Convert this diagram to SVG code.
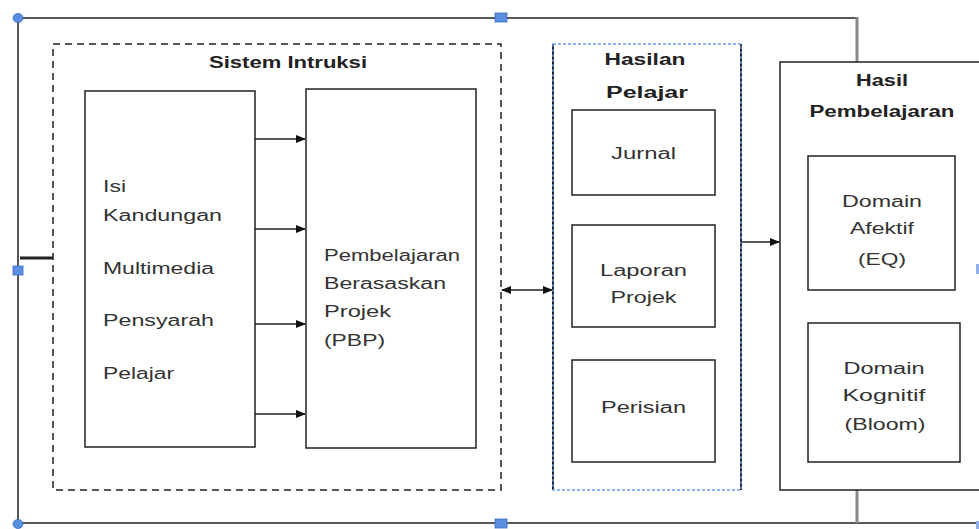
<svg xmlns="http://www.w3.org/2000/svg" width="979" height="529" viewBox="0 0 979 529">
<defs>
<style>
.t{font-family:"Liberation Sans",Arial,sans-serif;font-size:16px;fill:#333;}
.b{font-family:"Liberation Sans",Arial,sans-serif;font-size:16px;font-weight:bold;fill:#222;}
.box{fill:#fff;stroke:#222;stroke-width:1.5;}
.ln{stroke:#222;stroke-width:1.5;fill:none;}
.h{fill:#5b8fe0;stroke:#3a6cc0;stroke-width:0.8;}
</style>
<marker id="ar" markerWidth="10" markerHeight="8" refX="9" refY="4" orient="auto" markerUnits="userSpaceOnUse">
<path d="M0,0 L10,4 L0,8 z" fill="#111"/>
</marker>
<marker id="as" markerWidth="10" markerHeight="8" refX="1" refY="4" orient="auto" markerUnits="userSpaceOnUse">
<path d="M10,0 L0,4 L10,8 z" fill="#111"/>
</marker>
</defs>
<rect width="979" height="529" fill="#fff"/>
<g id="frame">
<path class="ln" d="M18,18 H857"/>
<path class="ln" d="M18,18 V523 H979"/>
<path d="M857,17 V523" stroke="#888" stroke-width="3"/>
</g>
<g id="sistem">
<rect x="53" y="44" width="448" height="446" fill="none" stroke="#222" stroke-width="1.5" stroke-dasharray="7,5"/>
<text class="b" x="288" y="68" text-anchor="middle" textLength="158" lengthAdjust="spacingAndGlyphs">Sistem Intruksi</text>
</g>
<g id="isi">
<rect class="box" x="85" y="91" width="170" height="356"/>
<text class="t" x="103" y="192" textLength="23" lengthAdjust="spacingAndGlyphs">Isi</text>
<text class="t" x="103" y="221" textLength="119" lengthAdjust="spacingAndGlyphs">Kandungan</text>
<text class="t" x="103" y="274" textLength="111" lengthAdjust="spacingAndGlyphs">Multimedia</text>
<text class="t" x="103" y="326" textLength="111" lengthAdjust="spacingAndGlyphs">Pensyarah</text>
<text class="t" x="103" y="379" textLength="71" lengthAdjust="spacingAndGlyphs">Pelajar</text>
</g>
<g id="pbp">
<rect class="box" x="306" y="89" width="170" height="359"/>
<text class="t" x="324" y="261" textLength="136" lengthAdjust="spacingAndGlyphs">Pembelajaran</text>
<text class="t" x="324" y="289" textLength="122" lengthAdjust="spacingAndGlyphs">Berasaskan</text>
<text class="t" x="324" y="317" textLength="67" lengthAdjust="spacingAndGlyphs">Projek</text>
<text class="t" x="324" y="346" textLength="61" lengthAdjust="spacingAndGlyphs">(PBP)</text>
</g>
<g id="hasilan">
<rect x="553" y="44" width="188" height="446" fill="#fff" stroke="none"/>
<path d="M553,44 V490 M741,44 V490" stroke="#222" stroke-width="2"/>
<rect x="553" y="44" width="188" height="446" fill="none" stroke="#6a9cf0" stroke-width="1.3" stroke-dasharray="3,2"/>
<text class="b" x="645" y="65" text-anchor="middle" textLength="81" lengthAdjust="spacingAndGlyphs">Hasilan</text>
<text class="b" x="647" y="98" text-anchor="middle" font-size="19" textLength="82" lengthAdjust="spacingAndGlyphs">Pelajar</text>
</g>
<g id="jurnal">
<rect class="box" x="572" y="110" width="143" height="85"/>
<text class="t" x="643.5" y="159" text-anchor="middle" textLength="65" lengthAdjust="spacingAndGlyphs">Jurnal</text>
</g>
<g id="laporan">
<rect class="box" x="572" y="225" width="143" height="102"/>
<text class="t" x="643.5" y="276" text-anchor="middle" textLength="87" lengthAdjust="spacingAndGlyphs">Laporan</text>
<text class="t" x="643.5" y="303" text-anchor="middle" textLength="66" lengthAdjust="spacingAndGlyphs">Projek</text>
</g>
<g id="perisian">
<rect class="box" x="572" y="360" width="143" height="102"/>
<text class="t" x="643.5" y="413" text-anchor="middle" textLength="85" lengthAdjust="spacingAndGlyphs">Perisian</text>
</g>
<g id="hasil">
<rect class="box" x="780" y="62" width="210" height="428"/>
<text class="b" x="882" y="86" text-anchor="middle" textLength="52" lengthAdjust="spacingAndGlyphs">Hasil</text>
<text class="b" x="882" y="117" text-anchor="middle" textLength="145" lengthAdjust="spacingAndGlyphs">Pembelajaran</text>
</g>
<g id="afektif">
<rect class="box" x="808" y="156" width="147" height="134"/>
<text class="t" x="882" y="207" text-anchor="middle" textLength="80" lengthAdjust="spacingAndGlyphs">Domain</text>
<text class="t" x="882" y="234" text-anchor="middle" textLength="64" lengthAdjust="spacingAndGlyphs">Afektif</text>
<text class="t" x="882" y="265" text-anchor="middle" textLength="48" lengthAdjust="spacingAndGlyphs">(EQ)</text>
</g>
<g id="kognitif">
<rect class="box" x="808" y="323" width="152" height="139"/>
<text class="t" x="884" y="374" text-anchor="middle" textLength="81" lengthAdjust="spacingAndGlyphs">Domain</text>
<text class="t" x="884" y="401" text-anchor="middle" textLength="83" lengthAdjust="spacingAndGlyphs">Kognitif</text>
<text class="t" x="885" y="430" text-anchor="middle" textLength="81" lengthAdjust="spacingAndGlyphs">(Bloom)</text>
</g>
<g id="connectors">
<path d="M20,258 H53" stroke="#222" stroke-width="3"/>
<path class="ln" d="M255,139 H305" marker-end="url(#ar)"/>
<path class="ln" d="M255,229 H305" marker-end="url(#ar)"/>
<path class="ln" d="M255,324 H305" marker-end="url(#ar)"/>
<path class="ln" d="M255,414 H305" marker-end="url(#ar)"/>
<path class="ln" d="M502,290 H552" marker-start="url(#as)" marker-end="url(#ar)"/>
<path class="ln" d="M741,242 H779" marker-end="url(#ar)"/>
</g>
<g id="handles">
<ellipse class="h" cx="18" cy="18" rx="5" ry="4.5"/>
<ellipse class="h" cx="18" cy="524" rx="5" ry="4.5"/>
<rect class="h" x="13" y="266" width="10" height="9"/>
<rect class="h" x="495" y="13" width="12" height="9"/>
<rect class="h" x="495" y="519" width="12" height="9"/>
<rect x="976" y="264" width="3" height="10" fill="#8fb0e8"/>
<rect x="976" y="521" width="3" height="8" fill="#8fb0e8"/>
</g>
</svg>
